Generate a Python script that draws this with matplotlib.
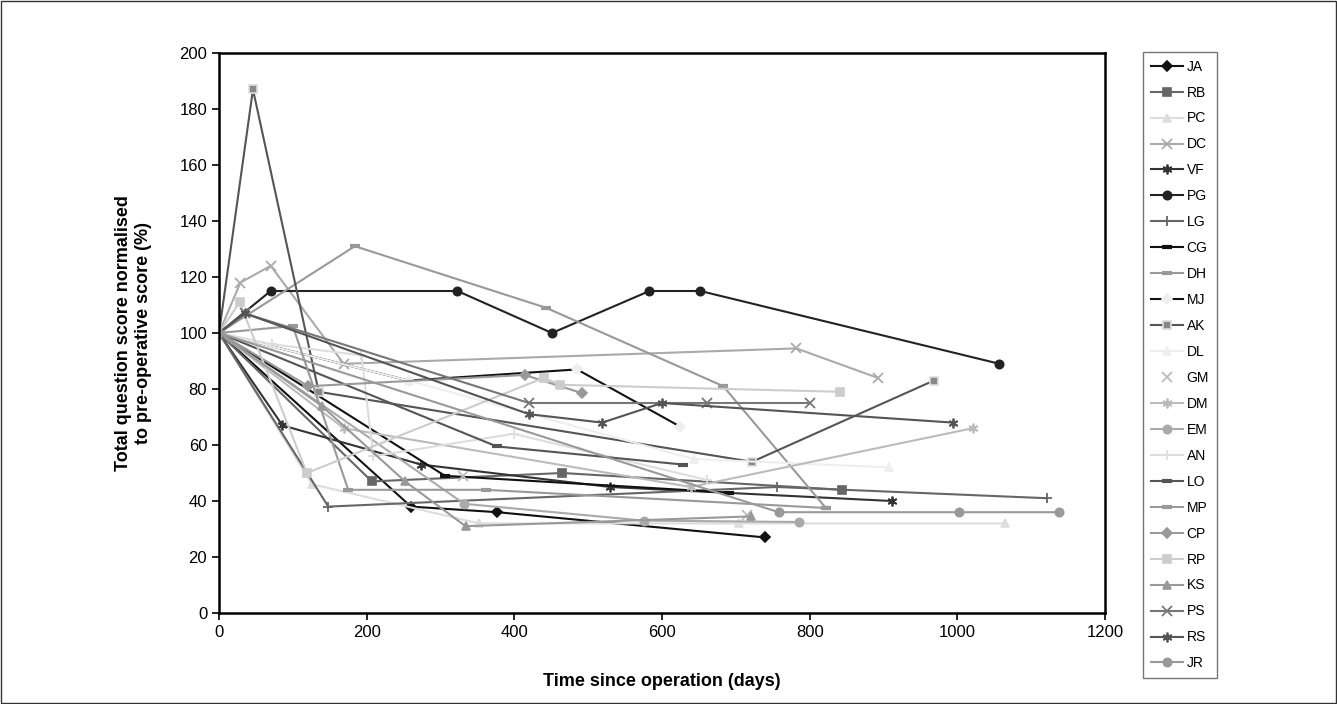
import matplotlib.pyplot as plt
from matplotlib.patches import Rectangle

plt.rcParams['font.family'] = ['Liberation Sans', 'DejaVu Sans']

# DATA (days since operation, score normalised to pre-op %)
ja_days = [0, 260, 377, 739]
ja_score = [100, 38, 36, 27]
rb_days = [0, 207, 465, 844]
rb_score = [100, 47, 50, 44]
pc_days = [0, 126, 352, 704, 1065]
pc_score = [100, 46, 32, 32, 32]
dc_days = [0, 29, 70, 169, 782, 892]
dc_score = [100, 118, 124, 89, 94.5, 84]
vf_days = [0, 86, 274, 530, 911]
vf_score = [100, 67, 53, 45, 40]
pg_days = [0, 70, 323, 451, 583, 652, 1057]
pg_score = [100, 115, 115, 100, 115, 115, 89]
lg_days = [0, 148, 756, 1121]
lg_score = [100, 38, 45, 41]
cg_days = [0, 306, 691]
cg_score = [100, 49, 43]
dh_days = [0, 184, 443, 683, 822]
dh_score = [100, 131, 109, 81, 37.5]
mj_days = [0, 257, 485, 625]
mj_score = [100, 83, 87, 66.5]
ak_days = [0, 46, 135, 722, 968]
ak_score = [100, 187, 79, 54, 83]
dl_days = [0, 257, 643, 907]
dl_score = [100, 83, 55, 52]
gm_days = [0, 330, 715]
gm_score = [100, 49, 35]
dm_days = [0, 169, 639, 1021]
dm_score = [100, 66, 45, 66]
em_days = [0, 332, 575, 785]
em_score = [100, 39, 33, 32.5]
an_days = [0, 72, 193, 209, 399, 661]
an_score = [100, 96, 92, 56, 64, 47.5]
lo_days = [0, 376, 629]
lo_score = [100, 59.5, 53]
mp_days = [0, 100, 175, 361, 822]
mp_score = [100, 102.5, 44, 44, 37.5]
cp_days = [0, 121, 414, 492]
cp_score = [100, 81, 85, 78.5]
rp_days = [0, 28, 119, 440, 462, 841]
rp_score = [100, 111, 50, 84, 81.5, 79]
ks_days = [0, 139, 252, 334, 720]
ks_score = [100, 74, 47, 31, 34.5]
ps_days = [0, 35, 420, 661, 800]
ps_score = [100, 107, 75, 75, 75]
rs_days = [0, 35, 420, 519, 600, 994]
rs_score = [100, 107, 71, 68, 75, 68]
jr_days = [0, 758, 1002, 1138]
jr_score = [100, 36, 36, 36]

ASTER = (6, 2, 0)

# name, days, score, line colour, marker, marker face, marker edge, linestyle
series = [
    ('JA', ja_days, ja_score, '#111111', 'D', '#111111', '#111111', '-'),
    ('RB', rb_days, rb_score, '#666666', 's', '#666666', '#666666', '-'),
    ('PC', pc_days, pc_score, '#dddddd', '^', '#dddddd', '#dddddd', '-'),
    ('DC', dc_days, dc_score, '#aaaaaa', 'x', '#aaaaaa', '#aaaaaa', '-'),
    ('VF', vf_days, vf_score, '#333333', ASTER, '#333333', '#333333', '-'),
    ('PG', pg_days, pg_score, '#222222', 'o', '#222222', '#222222', '-'),
    ('LG', lg_days, lg_score, '#666666', '+', '#666666', '#666666', '-'),
    ('CG', cg_days, cg_score, '#111111', '_', '#111111', '#111111', '-'),
    ('DH', dh_days, dh_score, '#999999', '_', '#999999', '#999999', '-'),
    ('MJ', mj_days, mj_score, '#111111', 'D', '#eeeeee', '#eeeeee', '-'),
    ('AK', ak_days, ak_score, '#555555', 's', '#888888', '#dddddd', '-'),
    ('DL', dl_days, dl_score, '#eeeeee', '^', '#eeeeee', '#eeeeee', '-'),
    ('GM', gm_days, gm_score, '#bbbbbb', 'x', '#bbbbbb', '#bbbbbb', 'none'),
    ('DM', dm_days, dm_score, '#bbbbbb', ASTER, '#bbbbbb', '#bbbbbb', '-'),
    ('EM', em_days, em_score, '#aaaaaa', 'o', '#aaaaaa', '#aaaaaa', '-'),
    ('AN', an_days, an_score, '#dddddd', '+', '#dddddd', '#dddddd', '-'),
    ('LO', lo_days, lo_score, '#555555', '_', '#555555', '#555555', '-'),
    ('MP', mp_days, mp_score, '#999999', '_', '#999999', '#999999', '-'),
    ('CP', cp_days, cp_score, '#999999', 'D', '#999999', '#999999', '-'),
    ('RP', rp_days, rp_score, '#cccccc', 's', '#cccccc', '#cccccc', '-'),
    ('KS', ks_days, ks_score, '#999999', '^', '#999999', '#999999', '-'),
    ('PS', ps_days, ps_score, '#777777', 'x', '#777777', '#777777', '-'),
    ('RS', rs_days, rs_score, '#555555', ASTER, '#555555', '#555555', '-'),
    ('JR', jr_days, jr_score, '#999999', 'o', '#999999', '#999999', '-'),
]

fig = plt.figure(figsize=(13.37, 7.04), dpi=100)
ax = fig.add_axes([219 / 1337, 91 / 704, 886 / 1337, 560 / 704])

for name, d, s, col, mk, mfc, mec, ls in series:
    ms = 6
    mew = 1.2
    if mk == '_':
        ms, mew = 7, 3
    elif mk in ('x', '+') or mk == ASTER:
        ms, mew = 7, 1.3
    elif mk == 'D':
        ms = 5.5
    ax.plot(d, s, color=col, linestyle=ls, linewidth=1.5, marker=mk,
            markersize=ms, markerfacecolor=mfc, markeredgecolor=mec,
            markeredgewidth=mew, label=name)

ax.set_xlim(0, 1200)
ax.set_ylim(0, 200)
ax.set_xticks(range(0, 1201, 200))
ax.set_yticks(range(0, 201, 20))
ax.tick_params(direction='out', length=5, width=1.2, labelsize=12, colors='black')
for sp in ax.spines.values():
    sp.set_linewidth(1.8)
ax.set_xlabel('Time since operation (days)', fontsize=13, fontweight='bold', labelpad=24)
ax.set_ylabel('Total question score normalised\nto pre-operative score (%)',
              fontsize=13, fontweight='bold', labelpad=20)

leg = fig.legend(loc='upper left', bbox_to_anchor=(1136 / 1337, 1 - 45 / 704),
                 frameon=True, fancybox=False, edgecolor='#555555',
                 fontsize=10, handlelength=2.3, labelspacing=0.86,
                 borderpad=0.55, handletextpad=0.3)
leg.get_frame().set_linewidth(1.0)

fig.patches.append(Rectangle((0.001, 0.001), 0.998, 0.997, transform=fig.transFigure,
                             fill=False, edgecolor='#333333', linewidth=1.0))

fig.savefig('out.png', dpi=100)
